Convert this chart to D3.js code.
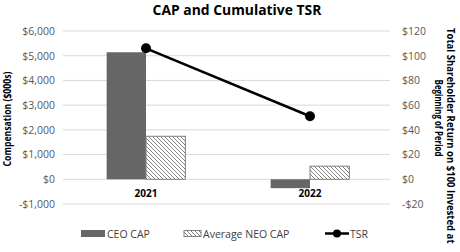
<!DOCTYPE html>
<html><head><meta charset="utf-8">
<script src="https://cdn.jsdelivr.net/npm/d3@7"></script>
<style>body{margin:0;background:#fff}svg{display:block}text{font-family:"Open Sans","Liberation Sans",sans-serif}</style>
</head><body><svg id="c" width="460" height="252"></svg>
<script>
const categories = ["2021", "2022"];
const ceoCap = [5140, -360];
const neoCap = [1740, 530];
const tsr = [106, 51];
const leftTicks = [-1000, 0, 1000, 2000, 3000, 4000, 5000, 6000];
const rightTicks = [-20, 0, 20, 40, 60, 80, 100, 120];

const svg = d3.select("#c");
const defs = svg.append("defs");
const pat = defs.append("pattern").attr("id","hatch").attr("patternUnits","userSpaceOnUse")
  .attr("width",4).attr("height",4);
pat.append("rect").attr("width",4).attr("height",4).attr("fill","#fff");
pat.append("path").attr("d","M-1,-1 L5,5 M-1,3 L1,5 M3,-1 L5,1").attr("stroke","#808080").attr("stroke-width",1);

const x = d3.scaleBand().domain(categories).range([64, 392]).padding(0);
const yL = d3.scaleLinear().domain([-1000, 6000]).range([204, 31]);
const yR = d3.scaleLinear().domain([-20, 120]).range([204, 31]);

// gridlines
svg.append("g").selectAll("line").data(leftTicks).join("line")
  .attr("x1",63).attr("x2",390).attr("y1",d=>yL(d)).attr("y2",d=>yL(d))
  .attr("stroke","#d9d9d9").attr("stroke-width",1);

// left axis
const fmtL = d => (d<0?"-":"")+"$"+d3.format(",")(Math.abs(d));
const gl = svg.append("g").attr("transform","translate(57,0)")
  .call(d3.axisLeft(yL).tickValues(leftTicks).tickFormat(fmtL).tickSize(0).tickPadding(2));
gl.select(".domain").remove();
gl.selectAll("text").attr("fill","#595959").attr("font-size",10.5).attr("font-family","Open Sans, sans-serif");

// right axis
const fmtR = d => (d<0?"-":"")+"$"+Math.abs(d);
const gr = svg.append("g").attr("transform","translate(400,0)")
  .call(d3.axisRight(yR).tickValues(rightTicks).tickFormat(fmtR).tickSize(0).tickPadding(2));
gr.select(".domain").remove();
gr.selectAll("text").attr("fill","#595959").attr("font-size",10.5).attr("text-anchor","start");

const bw = x.bandwidth()*0.24;
const cx = c => x(c) + x.bandwidth()/2;
// CEO bars
svg.append("g").selectAll("rect").data(categories).join("rect")
  .attr("x",c=>cx(c)-bw).attr("width",bw)
  .attr("y",(c,i)=>yL(Math.max(0,ceoCap[i]))).attr("height",(c,i)=>Math.abs(yL(ceoCap[i])-yL(0)))
  .attr("fill","#666666");
// NEO bars
svg.append("g").selectAll("rect").data(categories).join("rect")
  .attr("x",c=>cx(c)).attr("width",bw)
  .attr("y",(c,i)=>yL(Math.max(0,neoCap[i]))).attr("height",(c,i)=>Math.abs(yL(neoCap[i])-yL(0)))
  .attr("fill","url(#hatch)").attr("stroke","#7f7f7f").attr("stroke-width",1);

// category labels
svg.append("g").selectAll("text").data(categories).join("text")
  .attr("x",c=>cx(c)).attr("y",197).attr("text-anchor","middle")
  .attr("font-size",10).attr("font-weight","bold").attr("fill","#000").text(c=>c);

// TSR line
const line = d3.line().x((d,i)=>cx(categories[i])).y(d=>yR(d));
svg.append("path").datum(tsr).attr("d",line).attr("fill","none").attr("stroke","#000").attr("stroke-width",2.5);
svg.append("g").selectAll("circle").data(tsr).join("circle")
  .attr("cx",(d,i)=>cx(categories[i])).attr("cy",d=>yR(d)).attr("r",5).attr("fill","#000");

// helper: text condensed to a target length via transform scale
function fitText(tx, ty, rot, anchor, size, target, str) {
  const t = svg.append("text").attr("text-anchor",anchor)
    .attr("font-size",size).attr("font-weight","bold").attr("fill","#000").text(str);
  const nat = t.node().getComputedTextLength();
  const s = Math.min(1, target/nat);
  t.attr("transform",`translate(${tx},${ty}) rotate(${rot}) scale(${s},1)`);
  return t;
}

// title
fitText(237, 15, 0, "middle", 14.5, 169, "CAP and Cumulative TSR");
// left axis title
fitText(11, 119, -90, "middle", 10.5, 95, "Compensation ($000s)");
// right axis titles
fitText(447, 28, 90, "start", 10, 216, "Total Shareholder Return on $100 Invested at");
fitText(435, 118, 90, "middle", 10, 77, "Beginning of Period");

// legend
const lg = svg.append("g");
lg.append("rect").attr("x",81).attr("y",230).attr("width",24).attr("height",7).attr("fill","#666666");
lg.append("text").attr("x",107).attr("y",237.5).attr("font-size",10.5).attr("fill","#404040").text("CEO CAP");
lg.append("rect").attr("x",184).attr("y",230.5).attr("width",17).attr("height",6).attr("fill","url(#hatch)").attr("stroke","#7f7f7f").attr("stroke-width",1);
lg.append("text").attr("x",203).attr("y",237.5).attr("font-size",10.5).attr("fill","#404040").text("Average NEO CAP");
lg.append("line").attr("x1",325).attr("x2",349).attr("y1",233.5).attr("y2",233.5).attr("stroke","#000").attr("stroke-width",2.5);
lg.append("circle").attr("cx",337).attr("cy",233.5).attr("r",4).attr("fill","#000");
lg.append("text").attr("x",350).attr("y",237.5).attr("font-size",10.5).attr("fill","#404040").text("TSR");
</script></body></html>
